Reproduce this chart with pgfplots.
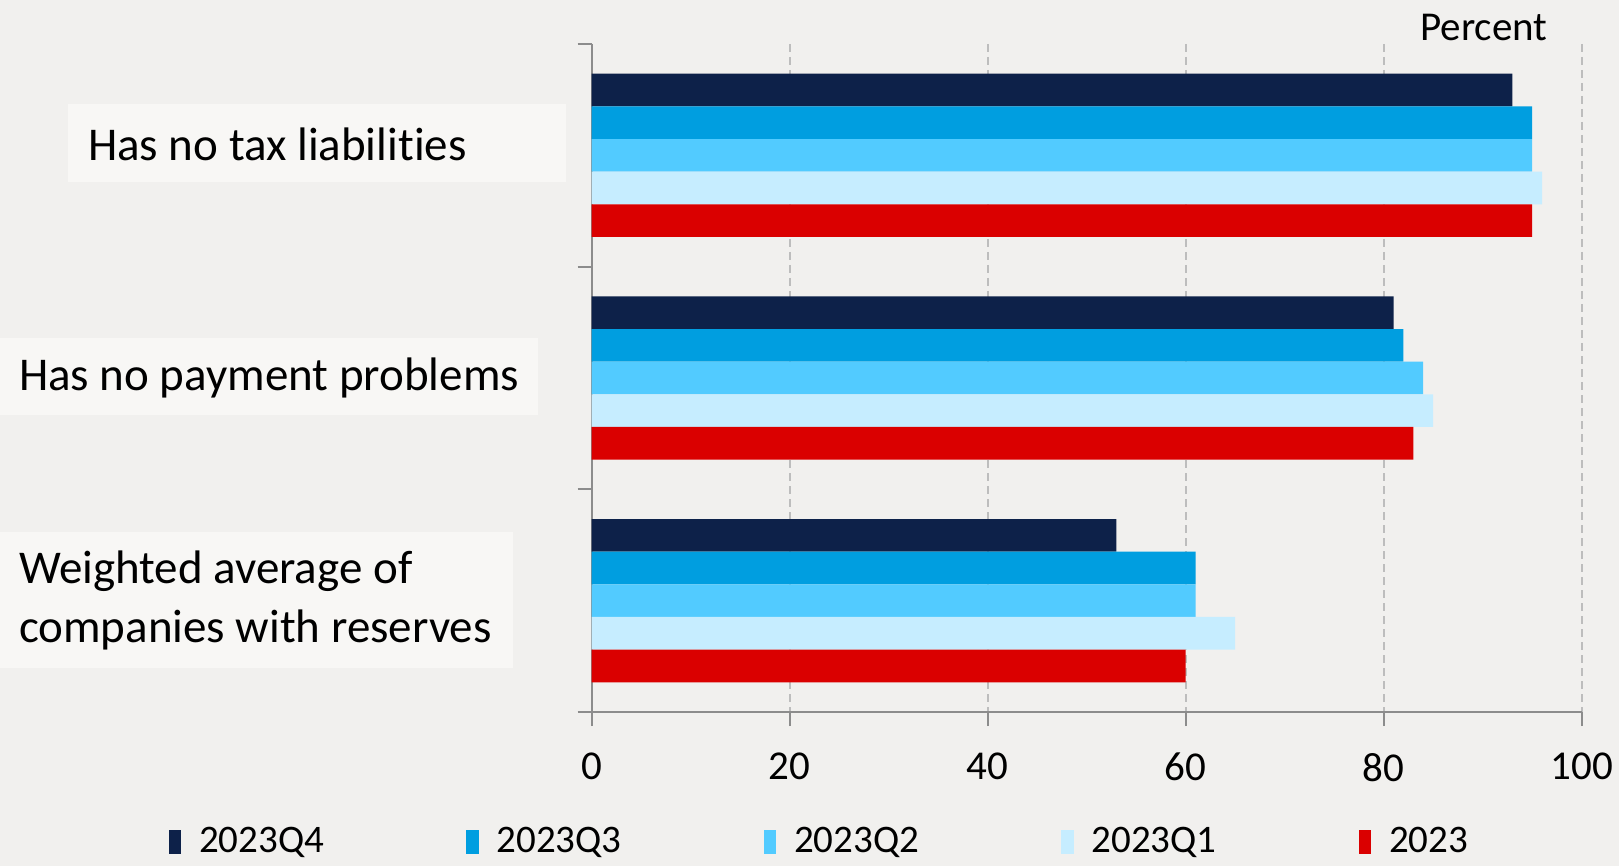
\documentclass[border=0pt]{standalone}
\usepackage{pgfplots}
\pgfplotsset{compat=1.18}
\usepackage{fontspec}
\setmainfont{Carlito}[Ligatures=NoCommon]
\definecolor{cQ4}{HTML}{0D2149}
\definecolor{cQ3}{HTML}{009EE0}
\definecolor{cQ2}{HTML}{52CBFF}
\definecolor{cQ1}{HTML}{C6EDFF}
\definecolor{cY}{HTML}{DA0000}
\definecolor{bgc}{HTML}{F1F0EE}
\definecolor{boxc}{HTML}{F8F7F5}
\definecolor{axc}{HTML}{8C8C8C}
\definecolor{gridc}{HTML}{BDBDBD}
\begin{document}
\begin{tikzpicture}[x=1pt,y=1pt]
\clip (0,0) rectangle (809.5,433);
\fill[bgc] (0,0) rectangle (809.5,433);
\fill[boxc] (34,342) rectangle (283,381);
\fill[boxc] (0,225.5) rectangle (269,264);
\fill[boxc] (0,99) rectangle (256.5,167);
\begin{axis}[
  at={(295.8pt,77pt)}, anchor=south west,
  scale only axis, width=495pt, height=334pt,
  xbar, bar width=0.1466,
  xmin=0, xmax=100, ymin=-0.5, ymax=2.5, y dir=reverse,
  axis x line*=bottom, axis y line*=left,
  axis line style={axc, line width=1pt},
  xtick={0,20,40,60,80,100},
  ytick={-0.5,0.5,1.5,2.5}, yticklabels={},
  tick style={axc, line width=1pt},
  major tick length=7pt,
  tick align=outside,
  xmajorgrids, grid style={gridc, dash pattern=on 4pt off 2.5pt, line width=0.9pt},
  /pgf/number format/assume math mode=true,
  xticklabel style={font=\fontsize{20.5}{24}\selectfont, yshift=-10pt},
  legend columns=5,
  legend style={draw=none, fill=none, inner sep=0pt,
    at={(-0.4275,-0.194)}, anchor=west,
    font=\fontsize{19.5}{23}\selectfont,
    nodes={inner xsep=0pt},
    /tikz/every odd column/.append style={column sep=9pt},
    /tikz/every even column/.append style={column sep=71pt}},
  legend image code/.code={\fill[#1,draw=none] (0pt,-6pt) rectangle (6.2pt,6pt);},
  clip=false,
]
\addplot[fill=cQ4, draw=none, bar shift=-0.2932] coordinates {(93,0) (81,1) (53,2)};
\addplot[fill=cQ3, draw=none, bar shift=-0.1466] coordinates {(95,0) (82,1) (61,2)};
\addplot[fill=cQ2, draw=none, bar shift=0] coordinates {(95,0) (84,1) (61,2)};
\addplot[fill=cQ1, draw=none, bar shift=0.1466] coordinates {(96,0) (85,1) (65,2)};
\addplot[fill=cY, draw=none, bar shift=0.2932] coordinates {(95,0) (83,1) (60,2)};
\legend{2023Q4,2023Q3,2023Q2,2023Q1,2023}
\end{axis}
\node[anchor=west, inner sep=0pt, font=\fontsize{23.5}{29.5}\selectfont] at (43.9,360.7) {Has no tax liabilities};
\node[anchor=west, inner sep=0pt, font=\fontsize{23.5}{29.5}\selectfont] at (9.3,244) {Has no payment problems};
\node[anchor=west, inner sep=0pt, align=left, font=\fontsize{23.5}{29.5}\selectfont] at (9.3,132.8) {Weighted average of\\companies with reserves};
\node[inner sep=0pt, font=\fontsize{20.5}{24}\selectfont] at (742,419) {Percent};
\end{tikzpicture}
\end{document}
